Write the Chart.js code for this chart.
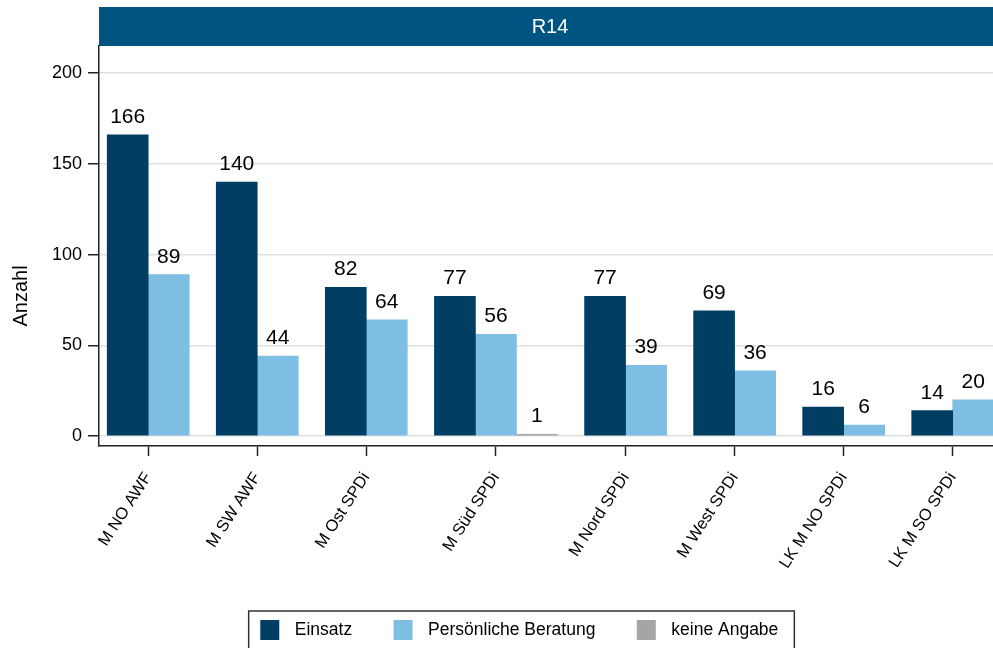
<!DOCTYPE html>
<html>
<head>
<meta charset="utf-8">
<script src="https://cdn.jsdelivr.net/npm/chart.js@4.4.1/dist/chart.umd.min.js"></script>
<style>
  html, body { margin: 0; padding: 0; background: #fff; overflow: hidden; }
  #wrap { width: 993px; height: 648px; }
</style>
</head>
<body>
<div id="wrap"><canvas id="chart" width="993" height="648"></canvas></div>
<script>
// data
const categories = ['M NO AWF', 'M SW AWF', 'M Ost SPDi', 'M Süd SPDi', 'M Nord SPDi', 'M West SPDi', 'LK M NO SPDi', 'LK M SO SPDi'];
const einsatz = [166, 140, 82, 77, 77, 69, 16, 14];
const beratung = [89, 44, 64, 56, 39, 36, 6, 20];
const keineAngabe = [null, null, null, 1, null, null, null, null];
const yTicks = [0, 50, 100, 150, 200];
const seriesLabels = ['Einsatz', 'Persönliche Beratung', 'keine Angabe'];
const seriesColors = ['#003f63', '#7ebee3', '#a5a5a5'];

const FONT = "'Liberation Sans', Arial, sans-serif";
const series = [einsatz, beratung, keineAngabe];

// groups are only as wide as the bars they hold (x unit = one bar width)
const GROUP_GAP = 0.646;
const groupCenters = [];
let start = 0;
categories.forEach((c, i) => {
    const n = series.filter(s => s[i] !== null).length;
    groupCenters.push(start + n / 2);
    start += n + GROUP_GAP;
});

// STEP 1: blue title band on top of the plot
const titleBand = {
    id: 'titleBand',
    beforeDraw(chart) {
        const { ctx, chartArea } = chart;
        ctx.save();
        ctx.fillStyle = '#fff';
        ctx.fillRect(0, 0, chart.width, chart.height);
        ctx.fillStyle = '#005482';
        ctx.fillRect(chartArea.left, 7, chart.width - chartArea.left, 39);
        ctx.fillStyle = '#fff';
        ctx.font = '20px ' + FONT;
        ctx.textAlign = 'center';
        ctx.textBaseline = 'middle';
        ctx.fillText('R14', (chartArea.left + chart.width) / 2 + 4, 27);
        ctx.restore();
    }
};

// STEP 2: numbers above the bars
const valueLabels = {
    id: 'valueLabels',
    afterDatasetsDraw(chart) {
        const { ctx } = chart;
        ctx.save();
        ctx.fillStyle = '#000';
        ctx.font = '21px ' + FONT;
        ctx.textAlign = 'center';
        ctx.textBaseline = 'alphabetic';
        chart.data.datasets.forEach((ds, di) => {
            chart.getDatasetMeta(di).data.forEach((bar, i) => {
                const v = ds.data[i].y;
                if (v === null) return;
                ctx.fillText(String(v), bar.x, bar.y - 12);
            });
        });
        ctx.restore();
    }
};

// STEP 3: y title and boxed legend
const extras = {
    id: 'extras',
    afterDraw(chart) {
        const { ctx } = chart;
        ctx.save();
        ctx.fillStyle = '#000';
        ctx.font = '20px ' + FONT;
        ctx.translate(21, 296);
        ctx.rotate(-Math.PI / 2);
        ctx.textAlign = 'center';
        ctx.textBaseline = 'middle';
        ctx.fillText('Anzahl', 0, 0);
        ctx.restore();

        ctx.save();
        ctx.font = '17.5px ' + FONT;
        const box = 19, toText = 15.5, toNext = 41.4, padL = 11.6, padR = 16;
        const widths = seriesLabels.map(t => ctx.measureText(t).width);
        let total = padL + padR;
        widths.forEach((w, i) => { total += box + toText + w + (i < widths.length - 1 ? toNext : 0); });
        const left = 521.5 - total / 2;
        const top = 611;
        ctx.strokeStyle = '#333';
        ctx.lineWidth = 1.5;
        ctx.strokeRect(left, top, total, 50);
        let x = left + padL;
        ctx.textBaseline = 'middle';
        ctx.textAlign = 'left';
        seriesLabels.forEach((t, i) => {
            ctx.fillStyle = seriesColors[i];
            ctx.fillRect(x, 620, box, 20);
            x += box + toText;
            ctx.fillStyle = '#000';
            ctx.fillText(t, x, 630);
            x += widths[i] + toNext;
        });
        ctx.restore();
    }
};

new Chart(document.getElementById('chart'), {
    type: 'bar',
    data: {
        datasets: series.map((s, k) => ({
            label: seriesLabels[k],
            data: s.map((v, i) => ({ x: groupCenters[i], y: v })),
            backgroundColor: seriesColors[k]
        }))
    },
    options: {
        responsive: false,
        animation: false,
        devicePixelRatio: 1,
        layout: { padding: { top: 46, left: 0, right: 0, bottom: 0 } },
        datasets: { bar: { barThickness: 41, skipNull: true, borderWidth: 0 } },
        plugins: { legend: { display: false }, tooltip: { enabled: false } },
        scales: {
            x: {
                type: 'linear',
                min: -0.194,
                max: 21.5,
                offset: false,
                afterFit: s => { s.height = 202; },
                afterBuildTicks: s => { s.ticks = groupCenters.map(v => ({ value: v })); },
                grid: { drawOnChartArea: false, drawTicks: true, tickLength: 10, tickColor: '#222', tickWidth: 1.5, offset: false },
                border: { display: true, color: '#222', width: 1.5 },
                ticks: {
                    autoSkip: false, minRotation: 57, maxRotation: 57, padding: 13,
                    color: '#000', font: { family: FONT, size: 16.5 },
                    callback: (v, i) => categories[i]
                }
            },
            y: {
                min: -5.5,
                max: 215,
                afterFit: s => { s.width = 99; },
                afterBuildTicks: s => { s.ticks = yTicks.map(v => ({ value: v })); },
                grid: { color: '#e0e0e0', lineWidth: 1.5, tickColor: '#222', tickLength: 11, tickWidth: 1.5 },
                border: { display: true, color: '#222', width: 1.5 },
                ticks: { padding: 6, color: '#000', font: { family: FONT, size: 18 } }
            }
        }
    },
    plugins: [titleBand, valueLabels, extras]
});
</script>
</body>
</html>
